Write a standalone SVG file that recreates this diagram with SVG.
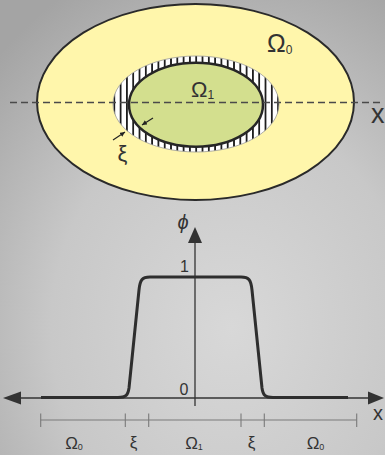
<svg xmlns="http://www.w3.org/2000/svg" width="385" height="455" viewBox="0 0 385 455">
<defs>
<radialGradient id="bg" cx="0.6" cy="0.72" r="0.85">
<stop offset="0" stop-color="#d8d8d8"/>
<stop offset="0.55" stop-color="#c8c8c8"/>
<stop offset="1" stop-color="#a4a4a4"/>
</radialGradient>
<pattern id="hatch" patternUnits="userSpaceOnUse" width="6.3" height="10" x="0" y="0">
<rect width="6.3" height="10" fill="#ffffff"/>
<rect x="0" y="0" width="1.8" height="10" fill="#1e1e1e"/>
</pattern>
<marker id="ah" viewBox="0 0 10 10" refX="10" refY="5" markerWidth="5" markerHeight="5" orient="auto" markerUnits="userSpaceOnUse">
<path d="M0,0 L10,5 L0,10 Z" fill="#222"/>
</marker>
</defs>
<style>
.lbl{font-family:"Liberation Sans",Arial,sans-serif;fill:#333;}
.axis{stroke:#333;stroke-width:1.3;fill:none;}
.tick{stroke:#7a7a7a;stroke-width:1.1;fill:none;}
.head{fill:#333;}
</style>
<rect x="0" y="0" width="385" height="455" fill="url(#bg)"/>

<g id="omega0-region">
<ellipse cx="195.5" cy="102" rx="158.5" ry="98" fill="#fff6ab" stroke="#2a2a2a" stroke-width="2"/>
</g>
<g id="xi-band">
<ellipse cx="196" cy="104" rx="83" ry="48" fill="url(#hatch)" stroke="#9a9a9a" stroke-width="0.8"/>
</g>
<g id="omega1-region">
<ellipse cx="196" cy="104.7" rx="67" ry="42" fill="#d3df8e" stroke="#262626" stroke-width="2.5"/>
</g>

<g id="connectors">
<line x1="10" y1="102.5" x2="382" y2="102.5" stroke="#4a4a4a" stroke-width="1.3" stroke-dasharray="7 4"/>
<line x1="113" y1="140" x2="125" y2="132" stroke="#222" stroke-width="1.2" marker-end="url(#ah)"/>
<line x1="153" y1="118" x2="142" y2="125" stroke="#222" stroke-width="1.2" marker-end="url(#ah)"/>
</g>

<g id="labels-top">
<text class="lbl" x="267" y="52" font-size="25">Ω<tspan font-size="12" dy="2">0</tspan></text>
<text class="lbl" x="191" y="97" font-size="22">Ω<tspan font-size="12" dy="2">1</tspan></text>
<text class="lbl" x="371" y="123" font-size="27">x</text>
<text class="lbl" x="122.5" y="161" font-size="22" text-anchor="middle">ξ</text>
</g>

<g id="graph">
<line class="axis" x1="14" y1="398" x2="372" y2="398"/>
<path class="head" d="M3,398 L21,391.5 L21,404.5 Z"/>
<path class="head" d="M384,398 L368,391.5 L368,404.5 Z"/>
<line class="axis" x1="195" y1="406" x2="195" y2="240"/>
<path class="head" d="M195,227 L188,243 L202,243 Z"/>
<path d="M41,397.5 L118,397.5 C126,397.5 128,395 129,388 L139,290 C140,280 142,277 150,277 L241,277 C249,277 251,280 252,290 L262,388 C263,395 265,397.5 273,397.5 L348,397.5" fill="none" stroke="#2e2e2e" stroke-width="3" stroke-linejoin="round"/>
<text class="lbl" x="183" y="229" font-size="20" font-style="italic" text-anchor="middle">ϕ</text>
<text class="lbl" x="184.5" y="272" font-size="16" text-anchor="middle">1</text>
<text class="lbl" x="184" y="395" font-size="16" text-anchor="middle">0</text>
<text class="lbl" x="373" y="420" font-size="20">x</text>
</g>

<g id="scale-bar">
<line class="tick" x1="40.7" y1="420" x2="356.7" y2="420"/>
<line class="tick" x1="40.7" y1="413.5" x2="40.7" y2="427"/>
<line class="tick" x1="125.3" y1="413.5" x2="125.3" y2="427"/>
<line class="tick" x1="148.7" y1="413.5" x2="148.7" y2="427"/>
<line class="tick" x1="241" y1="413.5" x2="241" y2="427"/>
<line class="tick" x1="264.3" y1="413.5" x2="264.3" y2="427"/>
<line class="tick" x1="356.7" y1="413.5" x2="356.7" y2="427"/>
<text class="lbl" x="74" y="449" font-size="17" text-anchor="middle">Ω<tspan font-size="9" dy="1">0</tspan></text>
<text class="lbl" x="133.5" y="448" font-size="17" text-anchor="middle">ξ</text>
<text class="lbl" x="194" y="449" font-size="17" text-anchor="middle">Ω<tspan font-size="9" dy="1">1</tspan></text>
<text class="lbl" x="251.5" y="448" font-size="17" text-anchor="middle">ξ</text>
<text class="lbl" x="315.5" y="449" font-size="17" text-anchor="middle">Ω<tspan font-size="9" dy="1">0</tspan></text>
</g>
</svg>
